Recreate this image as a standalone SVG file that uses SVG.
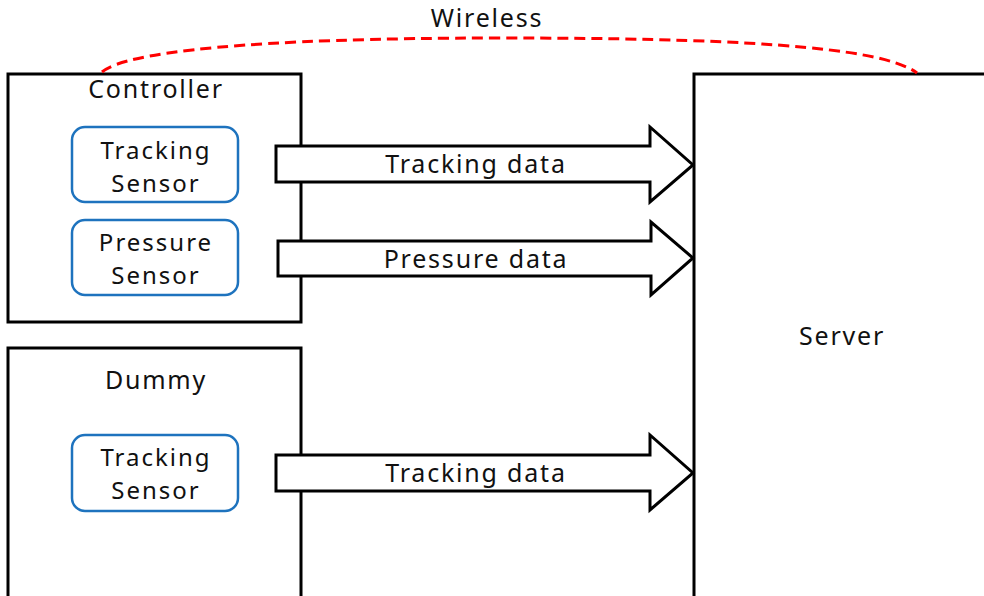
<svg xmlns="http://www.w3.org/2000/svg" width="984" height="596" viewBox="0 0 984 596">
  <style>
    .box { fill: #fff; stroke: #000; stroke-width: 3; }
    .sensor { fill: #fff; stroke: #1E73BE; stroke-width: 2.5; }
    .arrow { fill: #fff; stroke: #000; stroke-width: 3; stroke-linejoin: miter; }
    .wireless { fill: none; stroke: #FF0000; stroke-width: 3; stroke-dasharray: 11 6; }
    text { font-family: "Noto Sans", "Open Sans", "Liberation Sans", sans-serif; fill: #111; text-anchor: middle; font-size: 25px; letter-spacing: 1.8px; }
    .sensor-text { font-size: 24px; letter-spacing: 2px; }
  </style>
  <rect width="984" height="596" fill="#fff"/>

  <g id="controller">
    <rect class="box" x="8" y="74" width="293" height="248"/>
    <text x="156" y="98">Controller</text>
    <g id="controller-tracking-sensor">
      <rect class="sensor" x="72" y="127" width="166" height="75" rx="13"/>
      <text class="sensor-text" x="156" y="159">Tracking</text>
      <text class="sensor-text" x="156" y="192">Sensor</text>
    </g>
    <g id="controller-pressure-sensor">
      <rect class="sensor" x="72" y="220" width="166" height="75" rx="13"/>
      <text class="sensor-text" x="156" y="251">Pressure</text>
      <text class="sensor-text" x="156" y="284">Sensor</text>
    </g>
  </g>

  <g id="dummy">
    <rect class="box" x="8" y="348" width="293" height="260"/>
    <text x="156" y="389">Dummy</text>
    <g id="dummy-tracking-sensor">
      <rect class="sensor" x="72" y="435" width="166" height="76" rx="13"/>
      <text class="sensor-text" x="156" y="466">Tracking</text>
      <text class="sensor-text" x="156" y="499">Sensor</text>
    </g>
  </g>

  <g id="server">
    <rect class="box" x="694" y="74" width="300" height="540"/>
    <text x="842" y="345">Server</text>
  </g>

  <g id="connectors">
    <path class="wireless" d="M102,72 C125,52 250,38 500,38 C720,38 880,45 917,73"/>
    <text x="487" y="27">Wireless</text>

    <path class="arrow" d="M276,146 H650 V127 L693,165 L650,202 V182 H276 Z"/>
    <text x="476" y="173">Tracking data</text>

    <path class="arrow" d="M278,241 H651 V222 L693,258 L651,295 V276 H278 Z"/>
    <text x="476" y="268">Pressure data</text>

    <path class="arrow" d="M276,455 H650 V435 L693,473 L650,510 V491 H276 Z"/>
    <text x="476" y="482">Tracking data</text>
  </g>
</svg>
